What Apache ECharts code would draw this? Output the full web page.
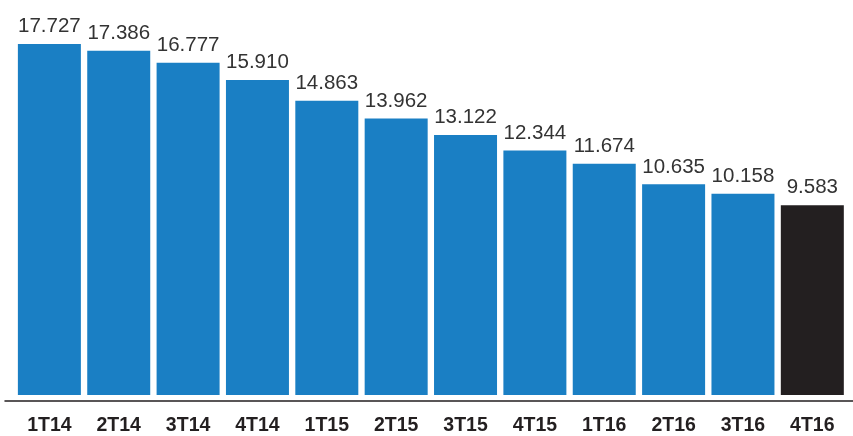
<!DOCTYPE html>
<html>
<head>
<meta charset="utf-8">
<script src="https://cdn.jsdelivr.net/npm/echarts@6/dist/echarts.min.js"></script>
<style>
  html, body { margin: 0; padding: 0; background: #ffffff; }
  #chart { width: 853px; height: 436px; }
</style>
</head>
<body>
<div id="chart"></div>
<script>
// Quarterly values (thousands), 2014–2016
const quarters = ['1T14', '2T14', '3T14', '4T14', '1T15', '2T15', '3T15', '4T15', '1T16', '2T16', '3T16', '4T16'];
const values = [17.727, 17.386, 16.777, 15.910, 14.863, 13.962, 13.122, 12.344, 11.674, 10.635, 10.158, 9.583];
const valueLabels = ['17.727', '17.386', '16.777', '15.910', '14.863', '13.962', '13.122', '12.344', '11.674', '10.635', '10.158', '9.583'];

const BLUE = '#1a7fc4';
const DARK = '#231f20';
const FONT = '"Liberation Sans", Arial, sans-serif';

const chart = echarts.init(document.getElementById('chart'), null, { renderer: 'canvas' });

const barData = values.map((v, i) => ({
  value: v,
  itemStyle: { color: i === values.length - 1 ? DARK : BLUE },
  label: { formatter: valueLabels[i] }
}));

chart.setOption({
  animation: false,
  backgroundColor: '#ffffff',
  grid: [
    { left: 14.7, right: 6, top: 38.5, bottom: 36 },
    // wider grid that only carries the full-width baseline rule
    { left: 5, right: 0, top: 38.5, bottom: 35.5 }
  ],
  xAxis: [
    {
      type: 'category',
      gridIndex: 0,
      data: quarters,
      axisLine: { show: false },
      axisTick: { show: false },
      axisLabel: {
        margin: 21,
        fontFamily: FONT,
        fontSize: 19.5,
        fontWeight: 'bold',
        color: DARK
      }
    },
    {
      type: 'value',
      gridIndex: 1,
      min: 0,
      max: 1,
      axisLine: { show: true, lineStyle: { color: '#231f20', width: 1.5 } },
      axisTick: { show: false },
      axisLabel: { show: false },
      splitLine: { show: false }
    }
  ],
  yAxis: [
    {
      type: 'value',
      gridIndex: 0,
      min: 0,
      max: 18,
      show: false,
      splitLine: { show: false }
    },
    {
      type: 'value',
      gridIndex: 1,
      min: 0,
      max: 1,
      show: false
    }
  ],
  series: [
    {
      type: 'bar',
      xAxisIndex: 0,
      yAxisIndex: 0,
      data: barData,
      barWidth: 63,
      label: {
        show: true,
        position: 'top',
        distance: 7,
        fontFamily: FONT,
        fontSize: 20.5,
        color: '#333333'
      }
    }
  ]
});
</script>
</body>
</html>
